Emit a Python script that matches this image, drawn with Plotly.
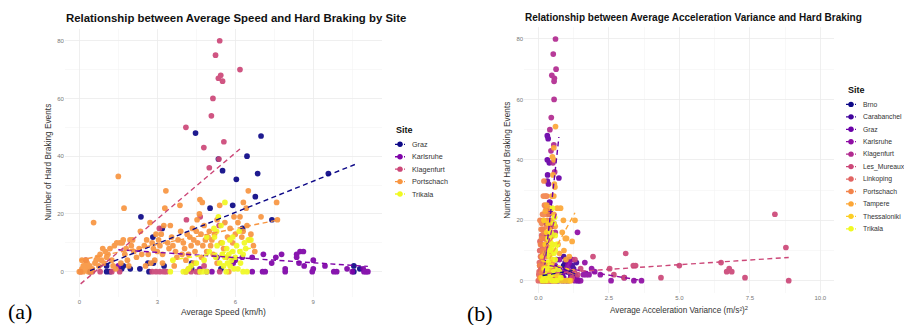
import plotly.graph_objects as go

W, H = 904, 325
FONT = "Liberation Sans, Arial, Helvetica, sans-serif"

# ---------------- Panel (a): average speed vs hard braking ----------------
sites_a = ["Graz", "Karlsruhe", "Klagenfurt", "Portschach", "Trikala"]
colors_a = ["#0D0887", "#7E03A8", "#CC4778", "#F89540", "#F0F921"]

graz_speed = [4.47, 6.99, 6.45, 5.35, 5.51, 6.86, 9.58, 6.04, 6.77, 5.03,
              5.90, 2.37, 7.41, 3.19, 6.28, 2.83, 10.56, 10.56, 10.79, 1.05,
              1.96, 1.05, 2.64, 2.85, 3.26, 4.32, 4.32, 5.45, 5.92, 2.68,
              0.41, 1.69, 2.33, 1.63, 1.18]
graz_brake_a = [48, 47, 40, 39, 35, 34, 34, 32, 26, 22,
                23, 19, 18, 15, 15, 12, 2, 0, 1, 2,
                1, 0, 3, 3, 2, 3, 1, 1, 4, 0,
                0, 2, 1, 1, 0]

karlsruhe_speed = [8.49, 8.62, 8.36, 8.36, 7.78, 7.56, 7.08, 7.40, 8.45, 8.65,
                   9.00, 7.92, 7.92, 9.00, 8.96, 9.45, 9.79, 9.90, 10.50, 10.92,
                   11.03, 11.10, 7.15, 6.65, 6.27, 6.65, 5.92, 4.64, 4.90, 5.30,
                   6.00, 5.10, 10.30, 10.95, 1.50, 7.05]
karlsruhe_brake_a = [7, 7, 6, 5, 6, 5, 6, 3, 3, 2,
                     4, 1, 0, 1, 0, 2, 0, 0, 0, 1,
                     0, 0, 0, 0, 5, 5, 3, 1, 0, 5,
                     4, 0, 1, 0, 2, 0]

klagenfurt_speed = [5.40, 5.24, 6.18, 5.44, 5.35, 5.51, 5.14, 5.08, 4.10, 5.56,
                    4.79, 5.37, 5.00, 4.12, 4.65, 3.08, 5.38, 2.80, 2.95, 3.10,
                    3.25, 3.35, 4.10, 4.30, 4.50, 4.60, 5.40, 1.25, 1.55, 0.25,
                    0.80, 4.80, 0.50, 0.05]
klagenfurt_brake_a = [80, 75, 70, 68, 67, 66, 60, 54, 50, 45,
                      43, 39, 36, 18, 19, 15, 16, 0, 0, 0,
                      0, 0, 0, 0, 0, 0, 0, 0, 0, 4,
                      0, 2, 0, 0]

portschach_speed = [
    0.00, 0.05, 0.10, 0.15, 0.20, 0.10, 0.25, 0.30, 0.35, 0.40, 0.50, 0.55, 0.60, 0.65, 0.70, 0.75, 0.80, 0.85, 0.90, 0.95, 1.00, 0.30, 0.45, 0.15,
    1.05, 1.10, 1.18, 1.25, 1.30, 1.35, 1.44, 1.50, 1.56, 1.60, 1.65, 1.69, 1.72, 1.75, 1.80, 1.85, 1.95, 2.00, 2.05, 1.90, 1.40,
    2.10, 2.20, 2.30, 2.35, 2.40, 2.50, 2.59, 2.65, 2.72, 2.80, 2.85, 2.90, 2.95, 3.00, 2.75, 2.55,
    3.05, 3.10, 3.15, 3.20, 3.25, 3.29, 3.33, 3.40, 3.45, 3.50, 3.55, 3.60, 3.70, 3.75, 3.80, 3.87, 3.90, 3.95, 3.65, 3.20,
    4.00, 4.05, 4.10, 4.15, 4.20, 4.25, 4.30, 4.35, 4.40, 4.45, 4.50, 4.53, 4.55, 4.62, 4.64, 4.68, 4.73, 4.75, 4.80, 4.85, 4.90, 4.95, 4.40, 4.20, 4.70,
    5.00, 5.05, 5.10, 5.15, 5.20, 5.30, 5.40, 5.45, 5.55, 5.60, 5.70, 5.80, 5.90, 5.95, 5.65, 5.30, 5.75,
    6.00, 6.10, 6.18, 6.25, 6.31, 6.42, 6.50, 6.45, 6.55, 6.70, 6.75, 6.99, 7.59, 7.62, 6.30, 6.60]
portschach_brake_a = [
    0, 0, 1, 0, 2, 4, 4, 1, 0, 2, 1, 17, 3, 4, 5, 2, 6, 4, 8, 3, 7, 3, 0, 2,
    5, 6, 8, 4, 2, 9, 10, 33, 10, 3, 10, 11, 22, 6, 8, 4, 11, 9, 11, 2, 1,
    7, 5, 8, 14, 6, 9, 11, 6, 17, 10, 8, 4, 13, 7, 3, 2,
    11, 9, 13, 6, 16, 22, 28, 10, 8, 16, 12, 9, 7, 5, 11, 23, 14, 6, 2, 3,
    10, 8, 4, 13, 6, 12, 9, 15, 11, 7, 14, 18, 10, 20, 25, 13, 24, 9, 16, 11, 7, 12, 3, 1, 5,
    14, 9, 11, 6, 13, 18, 23, 10, 8, 17, 12, 15, 10, 19, 5, 3, 0,
    13, 17, 19, 12, 24, 22, 28, 16, 11, 9, 7, 19, 24, 18, 14, 13]

trikala_speed = [5.60, 5.35, 5.18, 5.28, 5.45, 4.90, 5.79, 6.50, 5.67, 6.18,
                 6.40, 5.50, 5.60, 5.75, 5.85, 5.90, 6.00, 6.20, 6.30, 5.40,
                 5.55, 5.70, 5.95, 6.10, 6.30, 6.05, 6.60, 5.20, 5.00, 5.30,
                 4.80, 4.50, 4.30, 3.60, 3.50, 4.00, 4.10, 4.20, 4.65, 4.75,
                 5.65, 6.45, 4.90, 5.80, 6.35, 6.15, 5.90, 5.50, 5.25]
trikala_brake_a = [24, 19, 15, 14, 16, 12, 11, 11, 8, 7,
                   8, 6, 5, 6, 4, 7, 5, 3, 6, 3,
                   2, 3, 1, 1, 0, 9, 11, 12, 7, 9,
                   4, 3, 2, 4, 0, 0, 0, 1, 0, 0,
                   0, 0, 0, 2, 10, 14, 12, 10, 5]

# linear-fit (dashed) lines per site: slope, intercept, x-span
fit_slope_a = [3.61, -0.60, 7.62, 1.82, 1.33]
fit_intercept_a = [-1.13, 8.5, -4.6, 4.0, -0.67]
fit_xmin_a = [0.41, 1.50, 0.05, 0.00, 3.50]
fit_xmax_a = [10.60, 11.10, 6.18, 7.70, 6.60]

speed_ticks = [0, 3, 6, 9]
brake_ticks = [0, 20, 40, 60, 80]

# ---------------- Panel (b): acceleration variance vs hard braking ----------------
sites_b = ["Brno", "Carabanchel", "Graz", "Karlsruhe", "Klagenfurt", "Les_Mureaux",
           "Linkoping", "Portschach", "Tampere", "Thessaloniki", "Trikala"]
colors_b = ["#0D0887", "#41049D", "#6A00A8", "#8F0DA4", "#B12A90", "#CC4778",
            "#E16462", "#F2844B", "#FCA636", "#FCCE25", "#F0F921"]

brno_acc = [0.30, 0.35, 0.50, 0.25, 0.15, 0.40, 0.55, 0.20, 1.05, 0.90, 1.30]
brno_brake = [1, 3, 2, 0, 0, 5, 4, 2, 3, 5, 2]

carabanchel_acc = [0.95, 1.10, 1.20, 1.25, 1.00, 1.15, 1.30, 1.40, 0.90, 0.85,
                   0.75, 0.80, 1.35, 0.70, 0.60, 0.65, 1.05]
carabanchel_brake = [6, 7, 5, 4, 3, 2, 1, 0, 8, 2,
                     4, 1, 6, 0, 3, 7, 0]

graz_acc = [0.32, 0.35, 0.32, 0.39, 0.33, 0.32, 0.73, 0.36, 0.40, 0.38,
            0.42, 0.28, 0.45, 0.30, 0.50, 0.27, 0.80, 0.85, 0.90, 0.20,
            0.25, 0.22, 0.30, 0.35, 0.45, 0.50, 0.55, 0.60, 0.70, 0.15, 0.18]
graz_brake_b = [48, 47, 40, 39, 35, 33, 34, 32, 26, 22,
                23, 19, 18, 15, 15, 12, 2, 0, 1, 2,
                1, 0, 3, 3, 2, 3, 1, 1, 4, 0, 2]

karlsruhe_acc = [1.39, 1.65, 1.89, 1.60, 1.36, 1.24, 2.58, 3.39, 3.66, 1.80,
                 1.70, 1.50, 1.45, 1.20, 1.05, 1.10, 2.00, 3.05, 2.20, 1.30,
                 0.95, 1.00, 0.40, 0.60, 0.75, 0.50, 0.90, 1.15]
karlsruhe_brake_b = [16, 6, 4, 2, 1, 3, 0, 0, 0, 2,
                     2, 0, 0, 7, 5, 6, 3, 1, 2, 0,
                     0, 4, 6, 5, 7, 1, 3, 1]

klagenfurt_acc = [0.61, 0.53, 0.63, 0.48, 0.57, 0.56, 0.56, 0.46, 0.41, 0.55,
                  0.45, 0.52, 0.58, 0.50, 0.55, 0.35, 0.60, 0.30, 0.35, 0.40,
                  0.45, 0.50, 0.55, 0.20, 0.25, 0.60, 0.65]
klagenfurt_brake_b = [80, 75, 70, 68, 67, 66, 60, 54, 50, 45,
                      43, 39, 36, 18, 19, 15, 16, 0, 0, 0,
                      0, 0, 2, 0, 4, 1, 0]

lesmureaux_acc = [8.39, 8.78, 8.88, 7.33, 6.77, 6.86, 6.68, 6.48, 5.00, 4.35,
                  3.45, 3.37, 3.10, 2.53, 2.68, 1.94, 3.04, 1.30, 1.40, 0.30,
                  0.40, 1.10, 1.20, 0.60, 1.50]
lesmureaux_brake = [22, 11, 0, 1, 4, 3, 3, 6, 5, 1,
                    5, 5, 9, 4, 2, 8, 1, 7, 2, 3,
                    1, 3, 1, 0, 4]

linkoping_acc = [0.00, 0.02, 0.05, 0.08, 0.10, 0.12, 0.05, 0.03, 0.15, 0.18,
                 0.20, 0.22, 0.25, 0.28, 0.10, 0.14, 0.06, 0.09, 0.16, 0.20, 0.04]
linkoping_brake = [0, 2, 5, 8, 12, 15, 10, 3, 17, 20,
                   6, 9, 4, 1, 0, 7, 13, 4, 11, 14, 6]

portschach_acc = [0.20, 0.25, 0.30, 0.22, 0.28, 0.15, 0.25, 0.35, 0.10, 0.18,
                  0.30, 0.20, 0.12, 0.27, 0.22, 0.33, 0.15, 0.25, 0.38, 0.10,
                  0.20, 0.30, 0.05, 0.15, 0.25, 0.35, 0.10, 0.20, 0.30, 0.40,
                  0.05, 0.15, 0.25, 0.35, 0.45, 0.50, 0.42, 0.40, 0.32, 0.12,
                  0.08, 0.06, 0.18, 0.45, 0.50, 0.55]
portschach_brake_b = [33, 28, 28, 25, 24, 22, 22, 22, 17, 17,
                      18, 16, 14, 14, 12, 13, 10, 10, 11, 8,
                      9, 8, 5, 6, 5, 6, 3, 2, 3, 4,
                      1, 0, 0, 1, 2, 0, 19, 24, 20, 19,
                      12, 20, 28, 9, 6, 4]

tampere_acc = [0.61, 0.55, 0.50, 0.56, 0.52, 0.57, 0.59, 0.48, 0.55, 0.67,
               0.79, 0.89, 1.30, 0.85, 1.20, 0.96, 1.00, 0.91, 0.98, 0.55,
               0.60, 0.40, 0.45, 0.35, 0.50, 0.70, 0.75, 1.10, 1.25, 1.15,
               0.65, 0.30, 0.25]
tampere_brake = [51, 44, 41, 40, 35, 32, 31, 28, 28, 24,
                 24, 20, 20, 16, 13, 14, 14, 10, 7, 22,
                 18, 17, 20, 10, 12, 12, 9, 8, 3, 0,
                 2, 25, 23]

thessaloniki_acc = [0.20, 0.35, 0.30, 0.25, 0.40, 0.45, 0.15, 0.50, 0.30, 0.20,
                    0.40, 0.55, 0.10, 0.35, 0.60, 0.70, 0.80, 0.45, 0.25, 0.90, 1.00, 1.10]
thessaloniki_brake = [20, 19, 16, 12, 14, 10, 8, 7, 6, 4,
                      3, 2, 1, 0, 0, 1, 0, 5, 9, 0, 0, 0]

trikala_acc = [0.50, 0.55, 0.45, 0.52, 0.60, 0.42, 0.50, 0.48, 0.65, 0.55,
               0.60, 0.40, 0.35, 0.45, 0.70, 0.75, 0.30, 0.40, 0.50, 0.55,
               0.65, 0.25, 0.20, 0.60, 0.38, 0.30, 0.15, 0.45, 0.80, 0.35, 0.58, 0.28]
trikala_brake_b = [24, 19, 16, 15, 15, 13, 12, 11, 12, 9,
                   7, 8, 6, 5, 4, 3, 2, 1, 0, 3,
                   0, 0, 1, 10, 10, 4, 0, 2, 1, 14, 21, 9]

fit_slope_b = [1.5, -4.0, 85.0, -1.5, 35.0, 0.62, 30.0, 12.0, 17.0, -3.0, 14.0]
fit_intercept_b = [1.5, 7.5, -14.5, 5.6, 0.0, 2.2, 3.0, 8.0, 0.4, 7.0, 1.5]
fit_xmin_b = [0.15, 0.60, 0.20, 0.40, 0.20, 0.30, 0.00, 0.05, 0.25, 0.10, 0.15]
fit_xmax_b = [1.30, 1.40, 0.73, 3.66, 0.65, 8.88, 0.28, 0.55, 1.30, 1.10, 0.80]

acc_ticks = [0, 2.5, 5, 7.5, 10]
acc_tick_text = ["0.0", "2.5", "5.0", "7.5", "10.0"]

data_a = [(graz_speed, graz_brake_a), (karlsruhe_speed, karlsruhe_brake_a),
          (klagenfurt_speed, klagenfurt_brake_a), (portschach_speed, portschach_brake_a),
          (trikala_speed, trikala_brake_a)]
data_b = [(brno_acc, brno_brake), (carabanchel_acc, carabanchel_brake),
          (graz_acc, graz_brake_b), (karlsruhe_acc, karlsruhe_brake_b),
          (klagenfurt_acc, klagenfurt_brake_b), (lesmureaux_acc, lesmureaux_brake),
          (linkoping_acc, linkoping_brake), (portschach_acc, portschach_brake_b),
          (tampere_acc, tampere_brake), (thessaloniki_acc, thessaloniki_brake),
          (trikala_acc, trikala_brake_b)]

# ---------------- layout geometry (pixels) ----------------
A_X = (64.9, 382.3)
A_Y = (28.6, 297.1)
B_X = (524.2, 834.4)
B_Y = (26.9, 292.8)


def px(x):
    return x / W


def py(y):
    return 1 - y / H


fig = go.Figure()

MS = 5.7
for (xs, ys), c, s in zip(data_a, colors_a, sites_a):
    fig.add_trace(go.Scatter(x=xs, y=ys, mode="markers", name=s, xaxis="x", yaxis="y",
                             marker=dict(color=c, size=MS, line=dict(width=0)), opacity=0.92))
for (xs, ys), c, s in zip(data_b, colors_b, sites_b):
    fig.add_trace(go.Scatter(x=xs, y=ys, mode="markers", name=s, xaxis="x2", yaxis="y2",
                             marker=dict(color=c, size=MS, line=dict(width=0)), opacity=0.92))

DASH = "5px,3.5px"
for c, m, b, x0, x1 in zip(colors_a, fit_slope_a, fit_intercept_a, fit_xmin_a, fit_xmax_a):
    fig.add_trace(go.Scatter(x=[x0, x1], y=[b + m * x0, b + m * x1], mode="lines",
                             xaxis="x", yaxis="y", line=dict(color=c, width=1.4, dash=DASH)))
for c, m, b, x0, x1 in zip(colors_b, fit_slope_b, fit_intercept_b, fit_xmin_b, fit_xmax_b):
    fig.add_trace(go.Scatter(x=[x0, x1], y=[b + m * x0, b + m * x1], mode="lines",
                             xaxis="x2", yaxis="y2", line=dict(color=c, width=1.4, dash=DASH)))

GRID = "#EBEBEB"
MINOR = "#F4F4F4"
tickfont = dict(family=FONT, size=6, color="#777777")

axis_common = dict(showline=False, zeroline=False, ticks="", gridcolor=GRID, gridwidth=0.8,
                   tickfont=tickfont, fixedrange=True)

fig.update_layout(
    width=W, height=H, margin=dict(l=0, r=0, t=0, b=0),
    paper_bgcolor="white", plot_bgcolor="white", showlegend=False,
    xaxis=dict(domain=[px(A_X[0]), px(A_X[1])], range=[-0.555, 11.655], anchor="y",
               tickvals=speed_ticks,
               minor=dict(tickvals=[1.5, 4.5, 7.5, 10.5], showgrid=True, gridcolor=MINOR, gridwidth=0.6),
               **axis_common),
    yaxis=dict(domain=[py(A_Y[1]), py(A_Y[0])], range=[-8.8, 84.2], anchor="x",
               tickvals=brake_ticks,
               minor=dict(tickvals=[10, 30, 50, 70], showgrid=True, gridcolor=MINOR, gridwidth=0.6),
               **axis_common),
    xaxis2=dict(domain=[px(B_X[0]), px(B_X[1])], range=[-0.5, 10.5], anchor="y2",
                tickvals=acc_ticks, ticktext=acc_tick_text,
                minor=dict(tickvals=[1.25, 3.75, 6.25, 8.75], showgrid=True, gridcolor=MINOR, gridwidth=0.6),
                **axis_common),
    yaxis2=dict(domain=[py(B_Y[1]), py(B_Y[0])], range=[-4, 84], anchor="x2",
                tickvals=brake_ticks,
                minor=dict(tickvals=[10, 30, 50, 70], showgrid=True, gridcolor=MINOR, gridwidth=0.6),
                **axis_common),
)

ann = []
shapes = []


def text(x, y, t, size, color="#222222", bold=False, anchor="left", angle=0, family=FONT):
    ann.append(dict(x=px(x), y=py(y), xref="paper", yref="paper", text=(f"<b>{t}</b>" if bold else t),
                    showarrow=False, xanchor=anchor, yanchor="middle", textangle=angle,
                    font=dict(family=family, size=size, color=color)))


# titles
text(A_X[0] - 1, 18.0, "Relationship between Average Speed and Hard Braking by Site", 11.4, "#111111", bold=True)
text(B_X[0] - 1, 17.3, "Relationship between Average Acceleration Variance and Hard Braking", 10.0, "#111111", bold=True)
# axis titles
text((A_X[0] + A_X[1]) / 2, 311.7, "Average Speed (km/h)", 8.5, "#333333", anchor="center")
text(48, (A_Y[0] + A_Y[1]) / 2, "Number of Hard Braking Events", 8.3, "#333333", anchor="center", angle=-90)
text((B_X[0] + B_X[1]) / 2, 309.5, "Average Acceleration Variance (m/s²)<sup>2</sup>", 8.2, "#333333", anchor="center")
text(506.7, 160, "Number of Hard Braking Events", 8.3, "#333333", anchor="center", angle=-90)
# panel labels
text(6, 311.7, "(a)", 22, "#000000", family="Liberation Serif, Times New Roman, serif")
text(465, 313.0, "(b)", 22, "#000000", family="Liberation Serif, Times New Roman, serif")


def legend(x_title, y_title, x_key, x_text, y0, step, names, cols, fsize):
    text(x_title - 1, y_title, "Site", 9, "#111111", bold=True)
    for i, (n, c) in enumerate(zip(names, cols)):
        yy = y0 + i * step
        shapes.append(dict(type="line", xref="paper", yref="paper",
                           x0=px(x_key - 5), x1=px(x_key + 5), y0=py(yy), y1=py(yy),
                           line=dict(color=c, width=1.3, dash="3px,1.5px")))
        r = 2.7
        shapes.append(dict(type="circle", xref="paper", yref="paper",
                           x0=px(x_key - r), x1=px(x_key + r), y0=py(yy + r), y1=py(yy - r),
                           fillcolor=c, line=dict(width=0)))
        text(x_text - 1.5, yy, n, fsize, "#333333")


legend(395, 130, 400, 411, 144.3, 12.43, sites_a, colors_a, 7.2)
legend(846.7, 90, 851, 862.3, 104.4, 12.44, sites_b, colors_b, 6.8)

fig.update_layout(annotations=ann, shapes=shapes)

fig.write_html("out.html", config={"staticPlot": True},
               post_script="document.body.style.margin='0';document.body.style.overflow='hidden';")
